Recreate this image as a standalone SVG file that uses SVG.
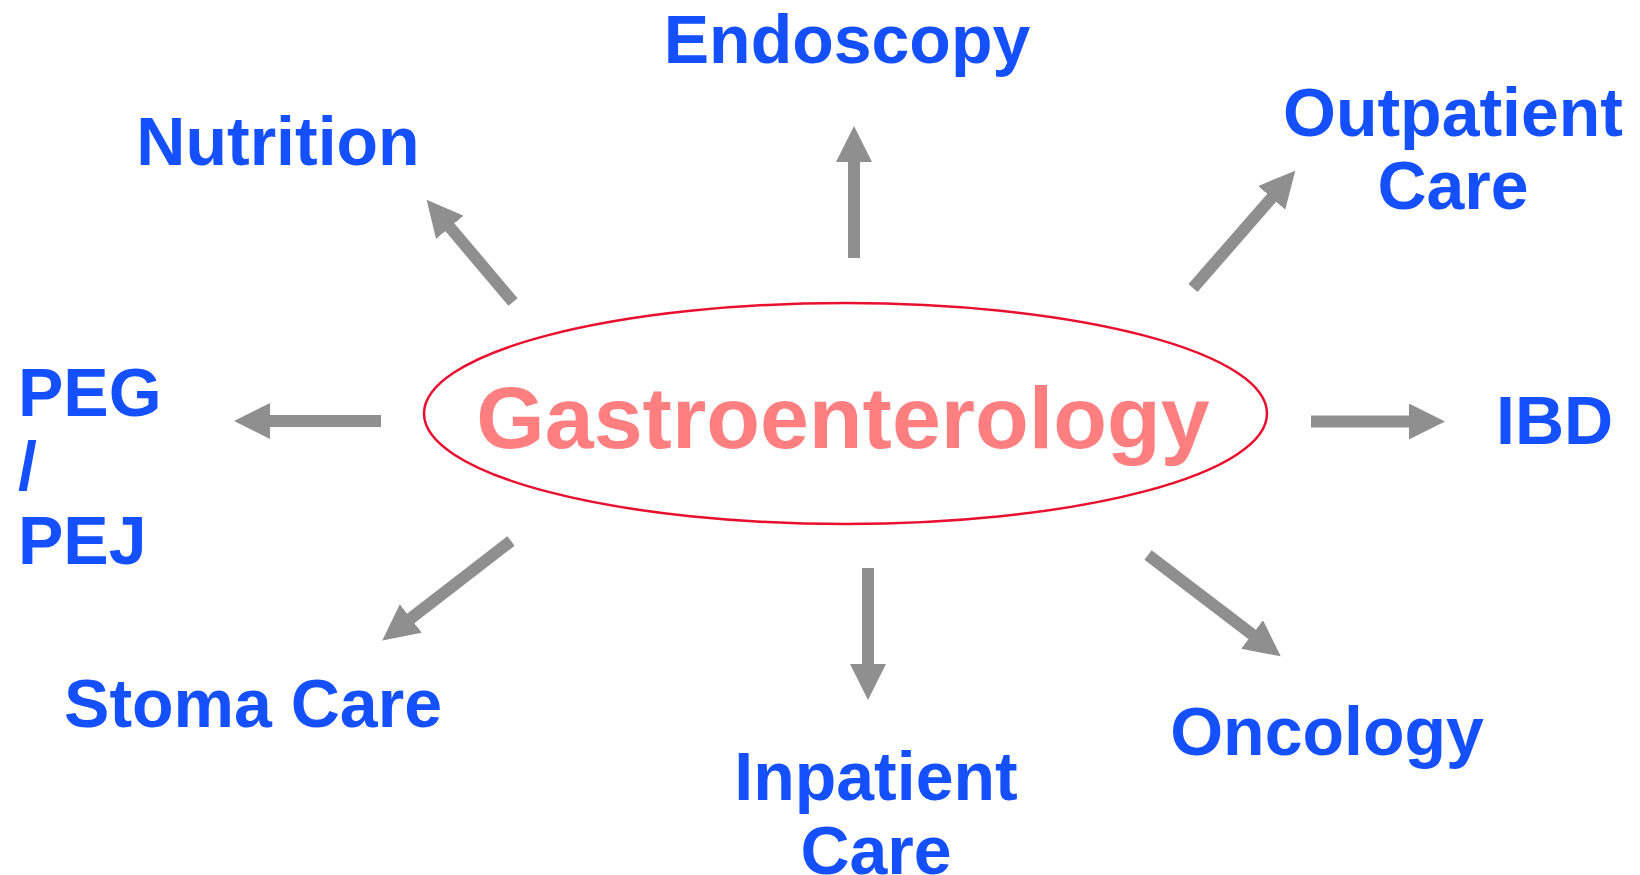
<svg xmlns="http://www.w3.org/2000/svg" width="1640" height="875" viewBox="0 0 1640 875">
<style>
.lbl{font-family:"Liberation Sans",Arial,sans-serif;font-weight:bold;font-size:68px;fill:#1450ff}
.ctr{font-family:"Liberation Sans",Arial,sans-serif;font-weight:bold;font-size:88px;fill:#ff7f80}
.arr{stroke:#8f8f8f;stroke-width:12;fill:none;marker-end:url(#head)}
</style>
<defs>
<marker id="head" viewBox="0 0 36 36" refX="1" refY="18" markerWidth="36" markerHeight="36" markerUnits="userSpaceOnUse" orient="auto">
<path d="M0,0 L36,18 L0,36 Z" fill="#8f8f8f"/>
</marker>
</defs>
<rect width="1640" height="875" fill="#ffffff"/>
<g id="center">
<ellipse cx="845.5" cy="413.5" rx="421.5" ry="110.5" fill="none" stroke="#e8102e" stroke-width="2.5"/>
<text class="ctr" x="843" y="448" text-anchor="middle">Gastroenterology</text>
</g>
<g id="connectors">
<line class="arr" x1="854" y1="258" x2="854" y2="161"/>
<line class="arr" x1="513" y1="302" x2="449.2" y2="226.5"/>
<line class="arr" x1="1193" y1="288" x2="1272.3" y2="197.1"/>
<line class="arr" x1="381" y1="421" x2="269" y2="421"/>
<line class="arr" x1="1311" y1="421.5" x2="1410" y2="421.5"/>
<line class="arr" x1="511" y1="541" x2="410" y2="619"/>
<line class="arr" x1="868" y1="568" x2="868" y2="665"/>
<line class="arr" x1="1148" y1="555" x2="1252.9" y2="635.1"/>
</g>
<g id="endoscopy"><text class="lbl" x="847" y="63" text-anchor="middle">Endoscopy</text></g>
<g id="nutrition"><text class="lbl" x="278" y="165" text-anchor="middle">Nutrition</text></g>
<g id="outpatient"><text class="lbl" x="1453" y="136" text-anchor="middle">Outpatient</text><text class="lbl" x="1453" y="209" text-anchor="middle">Care</text></g>
<g id="peg"><text class="lbl" x="18" y="416">PEG</text><text class="lbl" x="18" y="490">/</text><text class="lbl" x="18" y="564">PEJ</text></g>
<g id="ibd"><text class="lbl" x="1496" y="444">IBD</text></g>
<g id="stoma"><text class="lbl" x="253" y="727" text-anchor="middle">Stoma Care</text></g>
<g id="inpatient"><text class="lbl" x="876" y="800" text-anchor="middle">Inpatient</text><text class="lbl" x="876" y="874" text-anchor="middle">Care</text></g>
<g id="oncology"><text class="lbl" x="1327" y="755" text-anchor="middle">Oncology</text></g>
</svg>
